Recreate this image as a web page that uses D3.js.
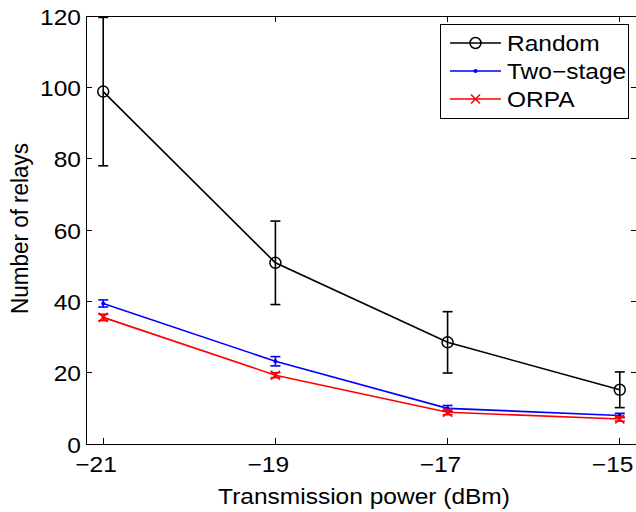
<!DOCTYPE html>
<html>
<head>
<meta charset="utf-8">
<script src="https://cdn.jsdelivr.net/npm/d3@7"></script>
<style>
  body { margin: 0; background: #fff; }
  svg { display: block; font-family: 'Liberation Sans', Arial, sans-serif; }
</style>
</head>
<body>
<svg id="chart" width="636" height="512"></svg>
<script>
// transmission power (dBm)
const powers = [-21, -19, -17, -15]

// mean number of relays and error half-widths
const randomMean = [98.8, 50.8, 28.5, 15.2]
const randomErr = [20.8, 11.7, 8.6, 5.0]
const twoStageMean = [39.4, 23.2, 10.0, 8.0]
const twoStageErr = [1.0, 1.3, 0.8, 0.6]
const orpaMean = [35.5, 19.3, 8.9, 7.0]
const orpaErr = [0.9, 0.7, 0.7, 0.6]

const xTicks = [-21, -19, -17, -15]
const yTicks = [0, 20, 40, 60, 80, 100, 120]

const series = [
  { name: 'Random', color: '#000000', marker: 'circle', mean: randomMean, err: randomErr },
  { name: 'Two\u2212stage', color: '#0000ff', marker: 'dot', mean: twoStageMean, err: twoStageErr },
  { name: 'ORPA', color: '#ff0000', marker: 'cross', mean: orpaMean, err: orpaErr },
]

const svg = d3.select('#chart')
const margin = { left: 86, top: 16, right: -1, bottom: 68 }
const W = 636, H = 512
const innerW = W - margin.left - margin.right
const innerH = H - margin.top - margin.bottom

const x = d3.scaleLinear().domain([-21.2, -14.8]).range([0, innerW])
const y = d3.scaleLinear().domain([0, 120]).range([innerH, 0])

// 原图文字横向略宽
const fs = 22.5
const sx = 1.09

const g = svg.append('g').attr('transform', `translate(${margin.left},${margin.top})`)

// 坐标轴框 + 向内刻度
const tick = 6
const axisG = g.append('g').attr('stroke', '#000').attr('stroke-width', 1).attr('shape-rendering', 'crispEdges')
axisG.append('rect').attr('width', innerW).attr('height', innerH).attr('fill', 'none')
xTicks.forEach(t => {
  axisG.append('line').attr('x1', x(t)).attr('x2', x(t)).attr('y1', innerH).attr('y2', innerH - tick)
  axisG.append('line').attr('x1', x(t)).attr('x2', x(t)).attr('y1', 0).attr('y2', tick)
})
yTicks.forEach(t => {
  axisG.append('line').attr('x1', 0).attr('x2', tick).attr('y1', y(t)).attr('y2', y(t))
  axisG.append('line').attr('x1', innerW).attr('x2', innerW - tick).attr('y1', y(t)).attr('y2', y(t))
})

const fmt = v => (v < 0 ? '\u2212' + Math.abs(v) : String(v))

// 数字居中于刻度，负号悬在左侧
const digitW = 0.556 * fs * sx
g.append('g')
  .selectAll('text')
  .data(xTicks)
  .join('text')
  .attr('transform', d => `translate(${x(d) + (String(Math.abs(d)).length * digitW) / 2},${innerH + 28}) scale(${sx},1)`)
  .attr('text-anchor', 'end')
  .attr('font-size', fs)
  .text(fmt)

g.append('g')
  .selectAll('text')
  .data(yTicks)
  .join('text')
  .attr('transform', d => `translate(-5,${y(d) + 8.5}) scale(${sx},1)`)
  .attr('text-anchor', 'end')
  .attr('font-size', fs)
  .text(fmt)

// 轴标题
g.append('text')
  .attr('transform', `translate(${(W - margin.left) / 2 + 3},${innerH + 60}) scale(${sx},1)`)
  .attr('text-anchor', 'middle')
  .attr('font-size', fs)
  .text('Transmission power (dBm)')

g.append('text')
  .attr('transform', `translate(${28 - margin.left},${innerH / 2 - 1.5}) scale(${sx},1) rotate(-90)`)
  .attr('text-anchor', 'middle')
  .attr('font-size', fs)
  .text('Number of relays')

function drawMarker(sel, type, color, cx, cy) {
  if (type === 'circle') {
    sel.append('circle').attr('cx', cx).attr('cy', cy).attr('r', 5.5)
      .attr('fill', 'none').attr('stroke', color).attr('stroke-width', 1.5)
  } else if (type === 'dot') {
    sel.append('circle').attr('cx', cx).attr('cy', cy).attr('r', 2)
      .attr('fill', color)
  } else {
    const s = 4.5
    sel.append('path')
      .attr('d', `M${cx - s},${cy - s}L${cx + s},${cy + s}M${cx - s},${cy + s}L${cx + s},${cy - s}`)
      .attr('stroke', color).attr('stroke-width', 1.5)
  }
}

const line = d3.line().x(d => x(d[0])).y(d => y(d[1]))
const plot = g.append('g')

series.forEach(s => {
  const pts = powers.map((p, i) => [p, s.mean[i], s.err[i]])
  plot.append('path')
    .datum(pts)
    .attr('d', line)
    .attr('fill', 'none')
    .attr('stroke', s.color)
    .attr('stroke-width', 1.6)

  // 误差线
  const cap = 5
  pts.forEach(([p, m, e]) => {
    const px = x(p)
    const eb = plot.append('g').attr('stroke', s.color).attr('stroke-width', 1.6).attr('fill', 'none')
    eb.append('line').attr('x1', px).attr('x2', px).attr('y1', y(m - e)).attr('y2', y(m + e))
    eb.append('line').attr('x1', px - cap).attr('x2', px + cap).attr('y1', y(m - e)).attr('y2', y(m - e))
    eb.append('line').attr('x1', px - cap).attr('x2', px + cap).attr('y1', y(m + e)).attr('y2', y(m + e))
    drawMarker(plot, s.marker, s.color, px, y(m))
  })
})

// 图例
const lg = svg.append('g').attr('transform', 'translate(440,24)')
lg.append('rect').attr('width', 188).attr('height', 94)
  .attr('fill', '#fff').attr('stroke', '#000').attr('stroke-width', 1).attr('shape-rendering', 'crispEdges')
series.forEach((s, i) => {
  const ly = 19 + i * 28
  lg.append('line').attr('x1', 10).attr('x2', 61).attr('y1', ly).attr('y2', ly)
    .attr('stroke', s.color).attr('stroke-width', 1.6)
  drawMarker(lg, s.marker, s.color, 35.5, ly)
  lg.append('text')
    .attr('transform', `translate(67,${ly + 8}) scale(${sx},1)`)
    .attr('font-size', fs)
    .text(s.name)
})
</script>
</body>
</html>
